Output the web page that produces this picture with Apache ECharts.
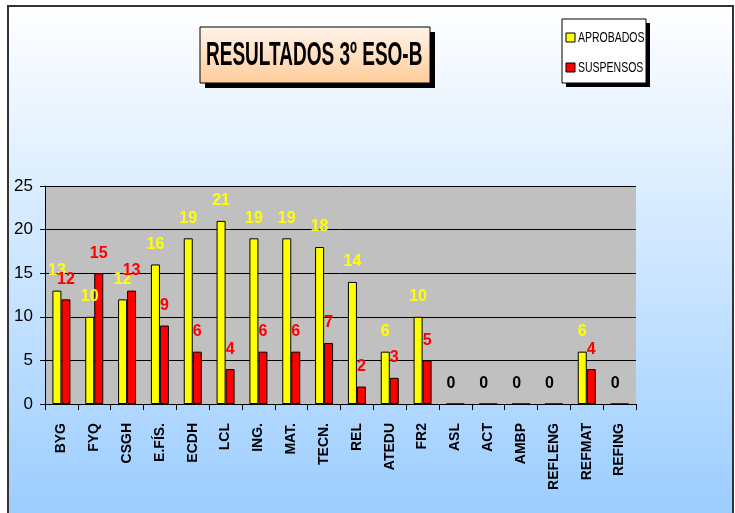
<!DOCTYPE html>
<html>
<head>
<meta charset="utf-8">
<script src="https://cdn.jsdelivr.net/npm/echarts@6/dist/echarts.min.js"></script>
<style>
html,body{margin:0;padding:0;background:#fff;}
#chart{width:735px;height:513px;}
</style>
</head>
<body>
<div id="chart"></div>
<script>
var categorias = ['BYG','FYQ','CSGH','E.FÍS.','ECDH','LCL','ING.','MAT.','TECN.','REL','ATEDU','FR2','ASL','ACT','AMBP','REFLENG','REFMAT','REFING'];
var aprobados = [13,10,12,16,19,21,19,19,18,14,6,10,0,0,0,0,6,0];
var suspensos = [12,15,13,9,6,4,6,6,7,2,3,5,0,0,0,0,4,0];
var ticksY = [0,5,10,15,20,25];
var titulo = 'RESULTADOS 3º ESO-B';
var nombres = ['APROBADOS','SUSPENSOS'];
var colores = ['#ffff00','#ff0000'];

var sans = '"Liberation Sans", Arial, sans-serif';

//serie amarilla: los ceros se ven en negro
var datosAprob = aprobados.map(function(v){
	return v === 0 ? {value:v, label:{color:'#000'}} : v
})
//serie roja: los ceros no se ven
var datosSusp = suspensos.map(function(v){
	return v === 0 ? {value:v, label:{show:false}} : v
})

//leyenda dibujada a mano (texto estrecho)
var leyenda = []
for(var i=0;i<nombres.length;i++){
	leyenda.push({
		type:'rect', z:3,
		shape:{x:566,y:33+i*30,width:9,height:9},
		style:{fill:colores[i],stroke:'#000',lineWidth:1}
	})
	leyenda.push({
		type:'text', z:3,
		x:578, y:38+i*30, scaleX:0.7,
		style:{
			text:nombres[i],
			font:'15px ' + sans,
			fill:'#000',
			textAlign:'left',
			textVerticalAlign:'middle'
		}
	})
}

var mychart = echarts.init(document.getElementById('chart'))
var option = {
	animation:false,
	backgroundColor:'#fff',
	graphic:[
		{
			type:'rect', z:-100,
			shape:{x:8,y:6,width:725,height:520},
			style:{
				fill:{type:'linear',x:0,y:0,x2:0,y2:1,colorStops:[{offset:0,color:'#ffffff'},{offset:1,color:'#99ccff'}]},
				stroke:'#333',lineWidth:2
			}
		},
		//titulo
		{type:'rect', z:1, shape:{x:205,y:32,width:230,height:56}, style:{fill:'#000'}},
		{
			type:'rect', z:2,
			shape:{x:200,y:27,width:230,height:56},
			style:{
				fill:{type:'linear',x:0,y:0,x2:0,y2:1,colorStops:[{offset:0,color:'#fff4ea'},{offset:1,color:'#ffcc99'}]},
				stroke:'#000',lineWidth:1
			}
		},
		{
			type:'text', z:3,
			x:206, y:56, scaleX:0.576,
			style:{
				text:titulo,
				font:'bold 33px ' + sans,
				fill:'#000',
				textAlign:'left',
				textVerticalAlign:'middle'
			}
		},
		//caja de la leyenda
		{type:'rect', z:1, shape:{x:566,y:23,width:84,height:64}, style:{fill:'#000'}},
		{type:'rect', z:2, shape:{x:562,y:19,width:84,height:64}, style:{fill:'#fff',stroke:'#000',lineWidth:1}}
	].concat(leyenda),
	grid:{
		left:45,
		right:99,
		top:186,
		bottom:109,
		show:true,
		backgroundColor:'#c0c0c0',
		borderWidth:0
	},
	xAxis:{
		type:'category',
		data:categorias,
		axisLine:{lineStyle:{color:'#000',width:1}},
		axisTick:{show:true,interval:0,length:6,lineStyle:{color:'#000'}},
		axisLabel:{
			interval:0,
			rotate:90,
			margin:19,
			color:'#000',
			fontWeight:'bold',
			fontSize:14,
			fontFamily:sans
		}
	},
	yAxis:{
		type:'value',
		min:ticksY[0],
		max:ticksY[ticksY.length-1],
		interval:ticksY[1]-ticksY[0],
		axisLine:{show:true,lineStyle:{color:'#000'}},
		axisTick:{show:true,length:5,lineStyle:{color:'#000'}},
		axisLabel:{
			color:'#000',
			fontSize:17,
			margin:12,
			fontFamily:sans
		},
		splitLine:{lineStyle:{color:'#000',width:1}}
	},
	series:[
		{
			name:nombres[0],
			type:'bar',
			barWidth:9,
			barGap:'0%',
			data:datosAprob,
			itemStyle:{color:colores[0],borderColor:'#000',borderWidth:1},
			label:{
				show:true,
				position:'top',
				distance:12,
				color:colores[0],
				fontWeight:'bold',
				fontSize:16,
				fontFamily:sans
			}
		},
		{
			name:nombres[1],
			type:'bar',
			barWidth:9,
			barGap:'0%',
			data:datosSusp,
			itemStyle:{color:colores[1],borderColor:'#000',borderWidth:1},
			label:{
				show:true,
				position:'top',
				distance:12,
				color:colores[1],
				fontWeight:'bold',
				fontSize:16,
				fontFamily:sans
			}
		}
	]
}
mychart.setOption(option)
</script>
</body>
</html>
